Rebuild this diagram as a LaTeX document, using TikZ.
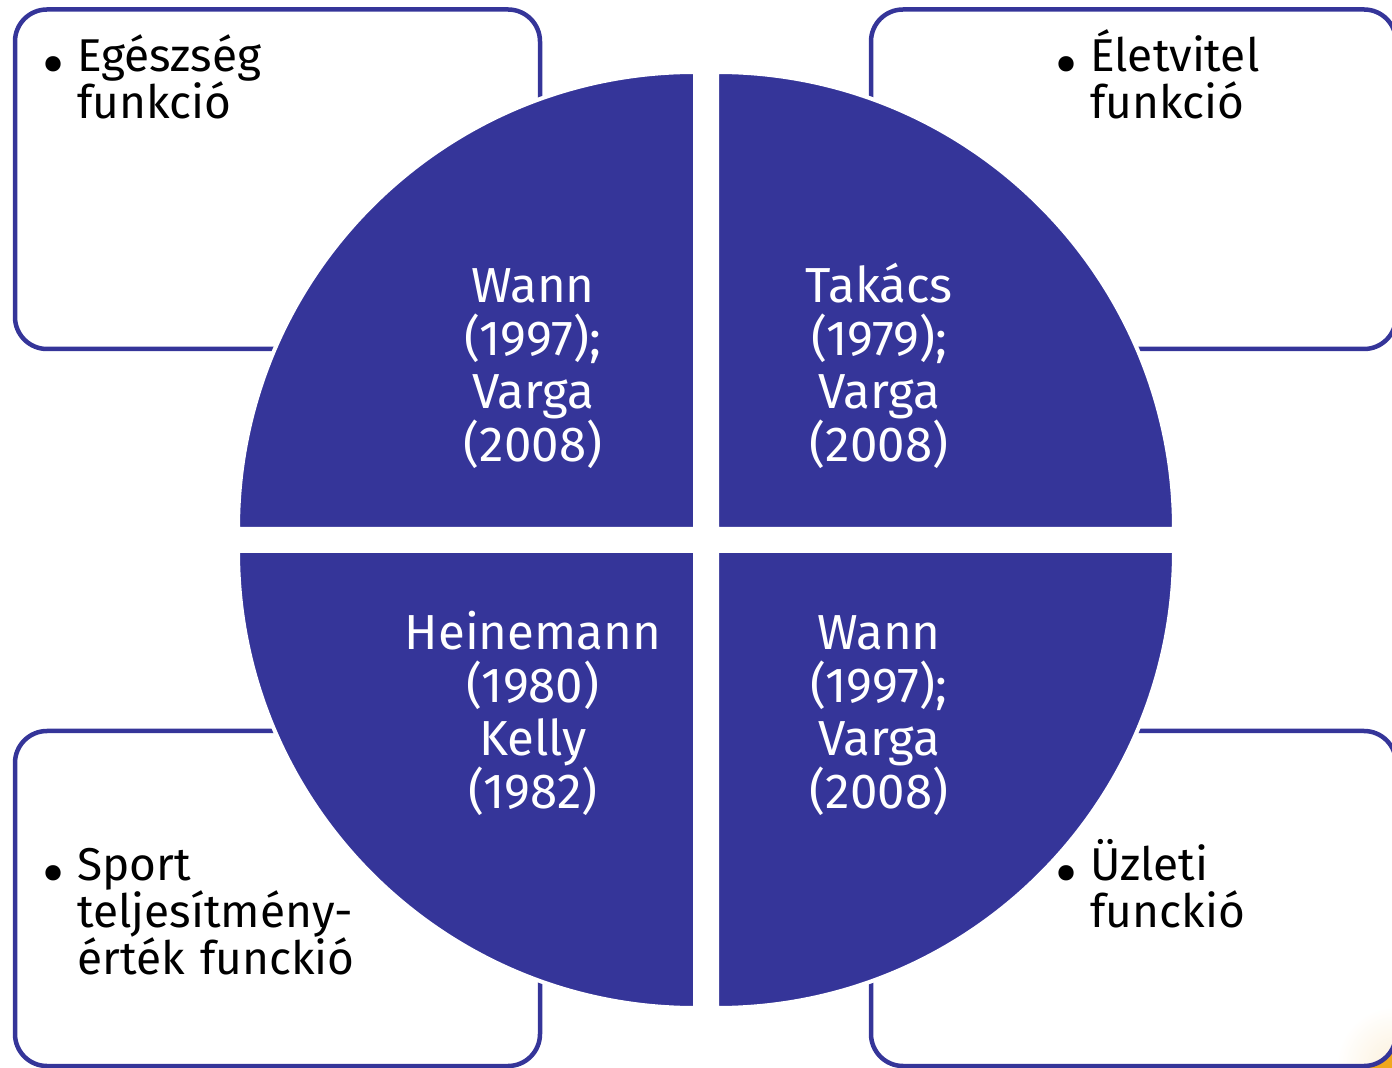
\documentclass[tikz,border=0pt]{standalone}
\usepackage{fontspec}
\setmainfont{Fira Sans}
\definecolor{quadblue}{HTML}{353599}
\definecolor{cornerorange}{HTML}{F0A81C}
\definecolor{cornercream}{HTML}{FCF0DA}
\newcommand{\itemdot}{\leavevmode\llap{\makebox[17.5pt][l]{\raisebox{-8pt}[0pt][0pt]{\fontsize{34}{34}\selectfont\textbullet}}}}
\begin{document}
\begin{tikzpicture}[x=0.5pt, y=-0.5pt,
        framebox/.style={draw=quadblue, line width=2.25pt, rounded corners=16pt},
        quad/.style={fill=quadblue, draw=white, line width=2pt},
        quadtext/.style={text=white, align=center, text width=160pt, anchor=base, inner sep=0pt, font=\fontsize{24.6}{26.5}\selectfont},
        itemtext/.style={text=black, align=left, text width=150pt, anchor=base west, inner sep=0pt, font=\fontsize{23}{23.5}\selectfont}]
    \useasboundingbox (0,0) rectangle (1392,1068);
    % corner of the slide background
    \fill[cornerorange] (1366,1046) rectangle (1392,1068);
    \fill[white, rounded corners=16pt] (871,731) rectangle (1396,1066);
    \begin{scope}
        \clip[rounded corners=16pt] (871,731) rectangle (1396,1066);
        \shade[inner color=cornercream, outer color=white] (1396,1066) circle[radius=60];
    \end{scope}
    % the four boxes
    \draw[framebox] (15,9.5) rectangle (540,349);
    \draw[framebox] (871,9.5) rectangle (1396,349);
    \draw[framebox] (15,731) rectangle (540,1066);
    \draw[framebox] (871,731) rectangle (1396,1066);
    % the four quarters of the disc
    \foreach \cx/\cy/\a in {695/529/180, 717/529/270, 717/551/0, 695/551/90}
        \filldraw[quad] (\cx,\cy) -- ++(\a:457) arc[start angle=\a, end angle=\a+90, radius=457] -- cycle;
    \node[quadtext] (wann) at (533,303) {Wann\\(1997);\\Varga\\(2008)};
    \node[quadtext] (takacs) at (879,303) {Takács\\(1979);\\Varga\\(2008)};
    \node[quadtext] (heinemann) at (533,650) {Heinemann\\(1980)\\Kelly\\(1982)};
    \node[quadtext] (wannbr) at (879,650) {Wann\\(1997);\\Varga\\(2008)};
    % bullet texts
    \node[itemtext] (egeszseg) at (77,72) {\itemdot Egészség\\funkció};
    \node[itemtext] (eletvitel) at (1090,72) {\itemdot Életvitel\\funkció};
    \node[itemtext] (sport) at (77,880) {\itemdot Sport\\teljesítmény-\\érték funckió};
    \node[itemtext] (uzleti) at (1090,880) {\itemdot Üzleti\\funckió};
\end{tikzpicture}
\end{document}
